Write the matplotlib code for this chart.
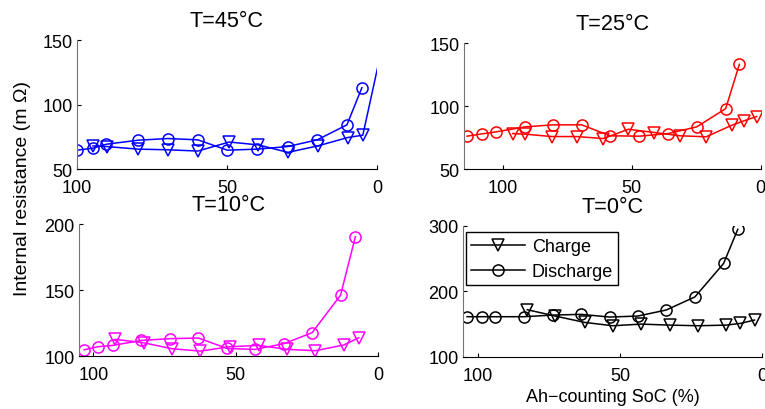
import numpy as np
import matplotlib
matplotlib.use("Agg")
import matplotlib.pyplot as plt

# SoC (%) and internal resistance (mOhm)
soc_45_dis = [100, 94.7, 90.2, 79.7, 69.7, 59.7, 49.9, 39.9, 29.7, 19.9, 10, 5]
r_45_dis = [64.7, 66.2, 69.3, 72.4, 73.7, 72.7, 64.7, 65.5, 67.5, 72.7, 84.3, 113.1]
soc_45_chg = [94.7, 90, 79.7, 69.7, 59.7, 49.3, 39.6, 29.7, 19.7, 9.7, 4.7, -3]
r_45_chg = [68, 67.5, 65.5, 65, 64, 71, 68.8, 63, 68, 74.5, 76.3, 158]

soc_25_dis = [113.8, 108.1, 102.6, 91.3, 80.4, 69.4, 58.4, 47, 35.8, 24.8, 13.6, 8.3]
r_25_dis = [76.2, 78, 79.6, 83.6, 85.2, 85.2, 76.5, 76.2, 78.3, 83.6, 98.1, 133.3]
soc_25_chg = [96.1, 91.3, 81, 71.3, 61, 51.3, 41.2, 31.3, 21.2, 11.2, 6.5, 1.6]
r_25_chg = [78.3, 77.8, 75.9, 75.9, 74.3, 81.7, 79.1, 76.5, 75.7, 84.9, 88.4, 91.8]

soc_10_dis = [103.2, 98.4, 93.2, 83.1, 73.2, 63.1, 53.0, 43.2, 33.1, 23.2, 13.2, 8.0]
r_10_dis = [104.8, 107.1, 108.1, 111.9, 113.2, 113.7, 105.8, 105.1, 109.4, 117.7, 146.1, 190.4]
soc_10_chg = [92.3, 82.3, 72.4, 62.4, 52.1, 41.9, 32, 22, 12.1, 6.8]
r_10_chg = [112.7, 110.1, 105.6, 103.8, 107.1, 108.1, 105.1, 104.1, 108.4, 113.9]

soc_0_dis = [103.8, 98.7, 93.8, 83.8, 73.6, 63.6, 53.6, 43.7, 33.7, 23.6, 13.5, 8.5]
r_0_dis = [161.4, 161.4, 161.4, 161.4, 163.9, 165, 160.9, 162.4, 171.6, 191.6, 242.7, 294.9]
soc_0_chg = [82.6, 72.8, 62.4, 52.5, 42.5, 32.5, 22.5, 12.6, 7.6, 2.6]
r_0_chg = [172.1, 162.4, 152.7, 147.6, 150.1, 148.6, 147.6, 148.6, 151.2, 156.3]

plt.rcParams["font.family"] = ["Liberation Sans", "DejaVu Sans"]
plt.rcParams["font.size"] = 13

fig = plt.figure(figsize=(7.65, 4.10), dpi=100)

panels = [
    # title, rect, color, xmax, ylim, yticks, data
    ("T=45°C", [0.1007, 0.585, 0.392, 0.315], "blue", 100, (50, 150), [50, 100, 150],
     (soc_45_chg, r_45_chg, soc_45_dis, r_45_dis)),
    ("T=25°C", [0.6065, 0.585, 0.388, 0.307], "red", 115, (50, 150), [50, 100, 150],
     (soc_25_chg, r_25_chg, soc_25_dis, r_25_dis)),
    ("T=10°C", [0.1033, 0.129, 0.391, 0.322], "magenta", 105, (100, 200), [100, 150, 200],
     (soc_10_chg, r_10_chg, soc_10_dis, r_10_dis)),
    ("T=0°C", [0.605, 0.127, 0.391, 0.3195], "black", 105.3, (100, 300), [100, 200, 300],
     (soc_0_chg, r_0_chg, soc_0_dis, r_0_dis)),
]

axes = []
for title, rect, color, xmax, ylim, yticks, (xc, yc, xd, yd) in panels:
    ax = fig.add_axes(rect)
    ax.plot(xc, yc, color=color, lw=1.1, marker="v", ms=8,
            mfc="none", mew=1.1, label="Charge")
    ax.plot(xd, yd, color=color, lw=1.1, marker="o", ms=8,
            mfc="none", mew=1.1, label="Discharge")
    ax.set_xlim(xmax, 0)
    ax.set_ylim(*ylim)
    ax.set_xticks([100, 50, 0])
    ax.set_yticks(yticks)
    ax.set_title(title, pad=10)
    ax.spines["top"].set_visible(False)
    ax.spines["right"].set_visible(False)
    ax.spines["left"].set_color("0.45")
    ax.tick_params(direction="in", length=3, width=0.8)
    ax.tick_params(axis="x", pad=7)
    ax.tick_params(axis="y", pad=3)
    axes.append(ax)

leg = axes[3].legend(loc="upper left", bbox_to_anchor=(0.01, 0.95),
                     handlelength=3.0, handletextpad=0.35, borderpad=0.3,
                     labelspacing=0.45, fancybox=False, framealpha=1,
                     borderaxespad=0)
leg.get_frame().set_edgecolor("black")
leg.get_frame().set_linewidth(1.0)

axes[3].set_xlabel("Ah\u2212counting SoC (%)", labelpad=3)
fig.text(0.030, 0.54, "Internal resistance (m \u03a9)", rotation=90,
         ha="center", va="center", fontsize=14)

fig.savefig("out.png", dpi=100)
